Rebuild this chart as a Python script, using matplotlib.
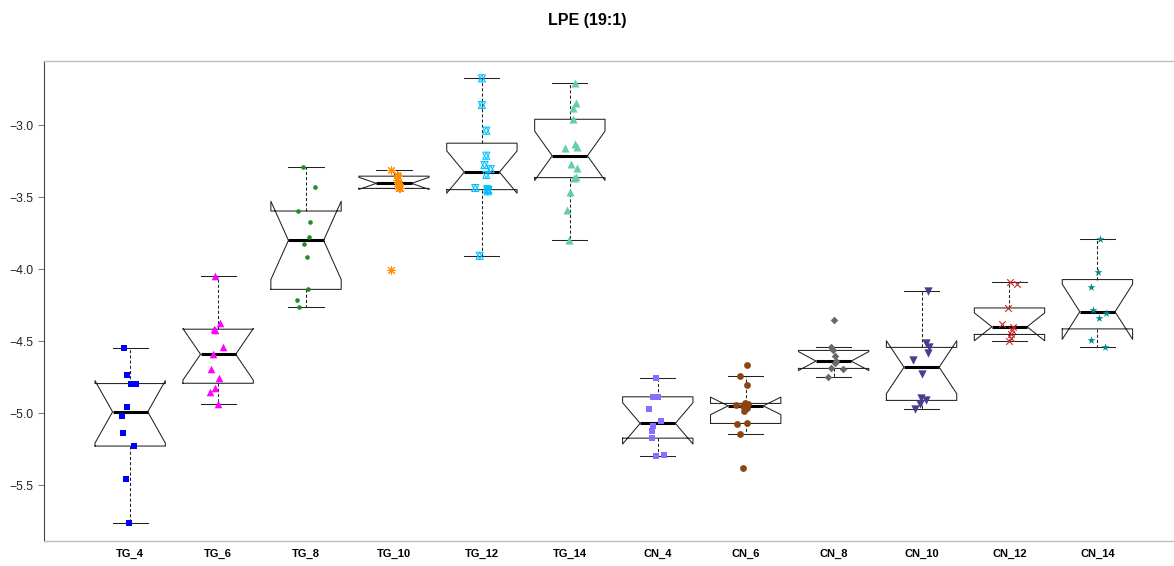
import numpy as np
import matplotlib
matplotlib.use("Agg")
import matplotlib.pyplot as plt

plt.rcParams["font.family"] = ["Liberation Sans", "DejaVu Sans"]

# LPE (19:1) log-abundance per sample group
groups = ["TG_4", "TG_6", "TG_8", "TG_10", "TG_12", "TG_14",
          "CN_4", "CN_6", "CN_8", "CN_10", "CN_12", "CN_14"]

tg_4 = [-4.551, -4.734, -4.799, -4.795, -4.960, -5.023, -5.137, -5.229, -5.458, -5.762]
tg_6 = [-4.046, -4.377, -4.415, -4.420, -4.544, -4.592, -4.697, -4.757, -4.829, -4.854, -4.938]
tg_8 = [-3.289, -3.431, -3.597, -3.671, -3.778, -3.824, -3.917, -4.141, -4.215, -4.262]
tg_10 = [-3.3125, -3.350, -3.355, -3.380, -3.400, -3.410, -3.420, -3.440, -3.440, -4.007]
tg_12 = [-2.676, -2.861, -3.039, -3.213, -3.278, -3.306, -3.347, -3.4375, -3.445, -3.452,
         -3.460, -3.908]
tg_14 = [-2.707, -2.849, -2.880, -2.960, -3.132, -3.155, -3.158, -3.269, -3.301, -3.359,
         -3.365, -3.463, -3.590, -3.801]
cn_4 = [-4.755, -4.887, -4.887, -4.974, -5.053, -5.090, -5.125, -5.174, -5.290, -5.296]
cn_6 = [-4.669, -4.743, -4.808, -4.933, -4.940, -4.945, -4.950, -4.962, -4.985, -5.072,
        -5.076, -5.146, -5.380]
cn_8 = [-4.354, -4.540, -4.565, -4.605, -4.639, -4.655, -4.690, -4.697, -4.748]
cn_10 = [-4.155, -4.512, -4.544, -4.581, -4.634, -4.729, -4.898, -4.912, -4.938, -4.974]
cn_12 = [-4.093, -4.104, -4.270, -4.384, -4.401, -4.424, -4.454, -4.481, -4.500]
cn_14 = [-3.794, -4.019, -4.127, -4.285, -4.308, -4.338, -4.493, -4.542]

# horizontal jitter of each sample around its group position
jit_tg_4 = [-0.07, -0.04, 0.01, 0.07, -0.04, -0.09, -0.08, 0.04, -0.05, -0.01]
jit_tg_6 = [-0.04, 0.02, -0.05, -0.03, 0.06, -0.06, -0.08, 0.01, -0.03, -0.09, 0.0]
jit_tg_8 = [-0.03, 0.10, -0.09, 0.04, 0.03, -0.02, 0.01, 0.02, -0.10, -0.08]
jit_tg_10 = [-0.035, 0.03, 0.05, 0.04, 0.05, 0.06, 0.05, 0.06, 0.07, -0.035]
jit_tg_12 = [0.0, 0.0, 0.05, 0.05, 0.03, 0.10, 0.05, -0.075, 0.06, 0.075, 0.065, -0.025]
jit_tg_14 = [0.06, 0.065, 0.035, 0.035, 0.055, 0.085, -0.05, 0.015, 0.085, 0.065, 0.045,
             0.0, -0.03, -0.015]
jit_cn_4 = [-0.015, -0.05, 0.0, -0.095, 0.035, -0.055, -0.07, -0.07, 0.075, -0.015]
jit_cn_6 = [0.02, -0.065, 0.015, -0.01, 0.025, -0.105, -0.03, 0.015, -0.02, 0.015,
            -0.095, -0.065, -0.03]
jit_cn_8 = [0.0, -0.03, -0.01, 0.01, 0.03, 0.02, -0.035, 0.105, -0.06]
jit_cn_10 = [0.075, 0.045, 0.085, 0.07, -0.095, 0.005, -0.005, 0.045, -0.015, -0.08]
jit_cn_12 = [0.005, 0.08, -0.015, -0.09, 0.035, 0.025, 0.015, 0.015, 0.0]
jit_cn_14 = [0.03, 0.01, -0.075, -0.05, 0.095, 0.02, -0.075, 0.09]

values = [tg_4, tg_6, tg_8, tg_10, tg_12, tg_14, cn_4, cn_6, cn_8, cn_10, cn_12, cn_14]
jitters = [jit_tg_4, jit_tg_6, jit_tg_8, jit_tg_10, jit_tg_12, jit_tg_14,
           jit_cn_4, jit_cn_6, jit_cn_8, jit_cn_10, jit_cn_12, jit_cn_14]

colors = ["#0000FF", "#FF00FF", "#228B22", "#FF8C00", "#00BFFF", "#66CDAA",
          "#8470FF", "#8B4513", "#696969", "#483D8B", "#CD2626", "#008B8B"]


def fivenum(v):
    x = np.sort(np.asarray(v, dtype=float))
    n = len(x)
    n4 = np.floor((n + 3) / 2) / 2
    d = np.array([1, n4, (n + 1) / 2, n + 1 - n4, n])
    return 0.5 * (x[np.floor(d).astype(int) - 1] + x[np.ceil(d).astype(int) - 1])


def box_stats(v, label):
    x = np.asarray(v, dtype=float)
    _, q1, med, q3, _ = fivenum(x)
    iqr = q3 - q1
    inside = x[(x >= q1 - 1.5 * iqr) & (x <= q3 + 1.5 * iqr)]
    half = 1.58 * iqr / np.sqrt(len(x))
    return dict(label=label, med=med, q1=q1, q3=q3,
                whislo=inside.min(), whishi=inside.max(),
                cilo=med - half, cihi=med + half, fliers=[])


W, H = 1174, 566
fig = plt.figure(figsize=(W / 100, H / 100), dpi=100)
ax = fig.add_axes([44 / W, (H - 540.6) / H, (1183.6 - 44) / W, (540.6 - 60.6) / H])

positions = np.arange(1, len(groups) + 1)
stats = [box_stats(v, g) for v, g in zip(values, groups)]
line_col = "#222222"
ax.bxp(stats, positions=positions, widths=0.8, shownotches=True, showfliers=False,
       boxprops=dict(color=line_col, lw=0.75),
       whiskerprops=dict(color=line_col, lw=0.75, linestyle=(0, (3, 2))),
       capprops=dict(color=line_col, lw=0.75),
       medianprops=dict(color="black", lw=2.2, solid_capstyle="butt"))

# sample points, one marker style per group
styles = [
    dict(marker="s", s=22),
    dict(marker="^", s=30),
    dict(marker="o", s=11),
    dict(marker=(8, 2, 0), s=32, lw=0.75),
    None,
    dict(marker="^", s=34),
    dict(marker="s", s=24),
    dict(marker="o", s=24),
    dict(marker="D", s=15),
    dict(marker="v", s=36),
    dict(marker="x", s=22, lw=0.8),
    dict(marker="*", s=36),
]
for i, (v, j, c, st) in enumerate(zip(values, jitters, colors, styles)):
    xs = positions[i] + np.asarray(j)
    if st is None:
        for m in ("^", "v"):
            ax.scatter(xs, v, marker=m, s=26, facecolors="none", edgecolors=c,
                       linewidths=0.75, zorder=4)
    elif st["marker"] == "x" or isinstance(st["marker"], tuple):
        ax.scatter(xs, v, marker=st["marker"], s=st["s"], color=c,
                   linewidths=st.get("lw", 1.0), zorder=4)
    else:
        ax.scatter(xs, v, marker=st["marker"], s=st["s"], color=c,
                   linewidths=0, zorder=4)

allv = np.concatenate([np.asarray(v) for v in values])
rng = allv.max() - allv.min()
ax.set_ylim(allv.min() - 0.04 * rng, allv.max() + 0.04 * rng)
ax.set_xlim(0.02, len(groups) + 0.98)

yt = [-3.0, -3.5, -4.0, -4.5, -5.0, -5.5]
ax.set_yticks(yt)
ax.set_yticklabels([f"\u2212{abs(t):.1f}" for t in yt])
ax.set_xticks(positions)
ax.set_xticklabels(groups)
ax.tick_params(axis="y", length=4.3, width=0.7, color="#777777", labelsize=8.8,
               pad=3.5, labelcolor="#222222")
ax.tick_params(axis="x", length=0, labelsize=8, pad=6)
for lab in ax.get_xticklabels():
    lab.set_fontweight("bold")

ax.spines["right"].set_visible(False)
ax.spines["left"].set_color("#444444")
ax.spines["left"].set_linewidth(0.8)
for side in ("top", "bottom"):
    ax.spines[side].set_color("#bdbdbd")
    ax.spines[side].set_linewidth(1.0)

fig.text(0.5, 1 - 20 / H, "LPE (19:1)", ha="center", va="center",
         fontsize=11.5, fontweight="bold")

fig.savefig("out.png", dpi=100)
